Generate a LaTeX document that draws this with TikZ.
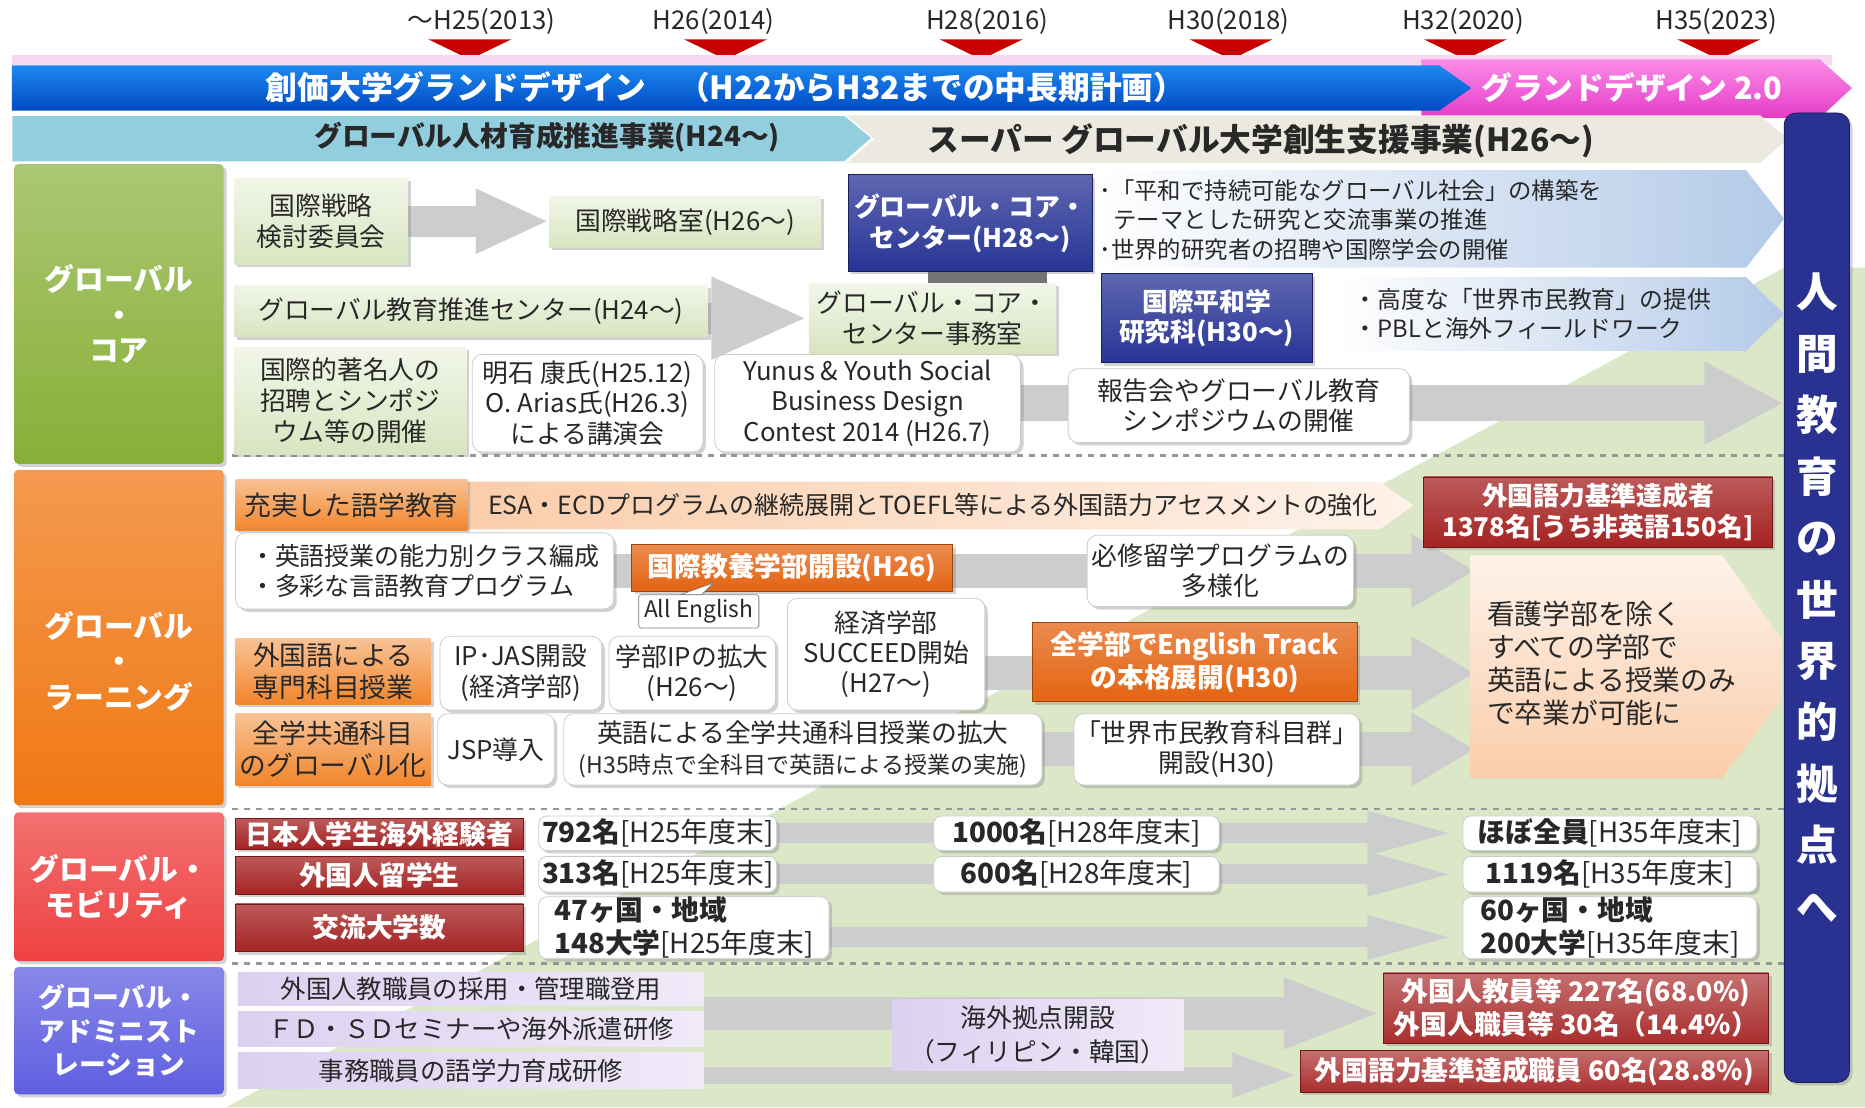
\documentclass[tikz,border=0pt]{standalone}
\usepackage{fontspec}
\setmainfont{Noto Sans CJK JP}
\usetikzlibrary{shadows,arrows.meta}

\newcommand{\jfs}[2]{\fontsize{#1}{#2}\selectfont}
% box from its two corners: \panel{style}{name}{x1}{y1}{x2}{y2}{text};
\newcommand{\panel}[6]{\node[#1, minimum width={(#5-#3)*0.6pt}, minimum height={(#6-#4)*0.6pt}] (#2) at ({(#3+#5)/2},{(#4+#6)/2})}

\definecolor{ink}{RGB}{40,40,40}
\definecolor{tickred}{RGB}{200,0,0}
\definecolor{blueribbon}{RGB}{30,135,240}
\definecolor{blueribbondark}{RGB}{0,75,195}
\definecolor{pinkribbon}{RGB}{230,60,200}
\definecolor{pinkribbonlight}{RGB}{250,140,230}
\definecolor{pinkhaze}{RGB}{248,215,240}
\definecolor{skyband}{RGB}{146,206,222}
\definecolor{sandband}{RGB}{236,234,224}
\definecolor{meadow}{RGB}{220,231,200}
\definecolor{coregreen}{RGB}{135,175,55}
\definecolor{learnorange}{RGB}{240,120,20}
\definecolor{mobred}{RGB}{238,65,65}
\definecolor{adminblue}{RGB}{95,95,225}
\definecolor{sage}{RGB}{216,229,192}
\definecolor{navy}{RGB}{40,52,150}
\definecolor{skyarrow}{RGB}{180,202,232}
\definecolor{peach}{RGB}{250,205,170}
\definecolor{ember}{RGB}{228,100,18}
\definecolor{brick}{RGB}{165,35,35}
\definecolor{lavender}{RGB}{220,208,240}
\definecolor{arrowgray}{RGB}{205,205,205}
\definecolor{sepgray}{RGB}{150,150,150}
\definecolor{goalnavy}{RGB}{42,50,145}

\pgfdeclarelayer{bottom}
\pgfdeclarelayer{back}
\pgfsetlayers{bottom,back,main}

\tikzset{
  every node/.style={inner sep=0pt, align=center, text=ink},
  softshadow/.style={drop shadow={opacity=.35, shadow xshift=1.5pt, shadow yshift=-1.5pt}},
  yearlabel/.style={font=\jfs{13}{15}},
  ribbontext/.style={text=white, font=\jfs{16}{18}\bfseries},
  bandtext/.style={font=\jfs{14}{16}\bfseries},
  cattext/.style={text=white, font=\jfs{15}{18}\bfseries},
  catbox/.style={rounded corners=2pt, cattext, softshadow},
  sagebox/.style={top color=sage!35, bottom color=sage, softshadow, font=\jfs{13}{15.5}},
  whitebox/.style={fill=white, rounded corners=5pt, draw=black!20, softshadow, font=\jfs{13}{15.3}},
  navybox/.style={top color=navy!75, bottom color=navy, draw=navy!60!black, text=white, softshadow, font=\jfs{13}{15.5}\bfseries},
  orangebox/.style={top color=learnorange!45, bottom color=learnorange!90, softshadow, font=\jfs{13.5}{16.5}},
  hotbox/.style={top color=ember!75, bottom color=ember, draw=ember!70!black, text=white, softshadow, font=\jfs{13.5}{16.5}\bfseries},
  brickbox/.style={top color=brick!75, bottom color=brick, draw=brick!70!black, text=white, softshadow, font=\jfs{13}{16}\bfseries},
  numbox/.style={whitebox, rounded corners=4pt, font=\jfs{14}{16.5}},
  lavbox/.style={left color=lavender, right color=lavender!45, font=\jfs{12.8}{15.5}},
  tagbox/.style={fill=white, draw=black!50, rounded corners=1pt, font=\jfs{11.5}{13}},
  plantext/.style={align=left, font=\jfs{11.8}{15}},
  blockarrow/.style n args={3}{draw=arrowgray, line width=#1, -{Triangle[width=#2, length=#3]}},
  sepline/.style={sepgray, dashed, line width=1.2pt}
}

\begin{document}
\begin{tikzpicture}[x=0.6pt, y=-0.6pt]
\useasboundingbox (0,0) rectangle (1568,931);

\begin{pgfonlayer}{bottom}
\fill[white] (0,0) rectangle (1568,931);
\fill[meadow] (190,931) -- (1500,225) -- (1568,225) -- (1568,931) -- cycle;
\draw[sepline] (195,383) -- (1500,383);
\draw[sepline] (195,680) -- (1500,680);
\draw[sepline] (195,810) -- (1500,810);
\end{pgfonlayer}

% timeline
\node[yearlabel] (y2013) at (405,18) {〜H25(2013)};
\node[yearlabel] (y2014) at (600,18) {H26(2014)};
\node[yearlabel] (y2016) at (830,18) {H28(2016)};
\node[yearlabel] (y2018) at (1033,18) {H30(2018)};
\node[yearlabel] (y2020) at (1230,18) {H32(2020)};
\node[yearlabel] (y2023) at (1443,18) {H35(2023)};
\fill[tickred] (360,33) -- (430,33) -- (395,50) -- cycle;
\fill[tickred] (575,33) -- (645,33) -- (610,50) -- cycle;
\fill[tickred] (790,33) -- (860,33) -- (825,50) -- cycle;
\fill[tickred] (1000,33) -- (1070,33) -- (1035,50) -- cycle;
\fill[tickred] (1197,33) -- (1267,33) -- (1232,50) -- cycle;
\fill[tickred] (1410,33) -- (1480,33) -- (1445,50) -- cycle;

% ribbons
\fill[pinkhaze] (10,46) rectangle (1540,55);
\shade[top color=pinkribbonlight, bottom color=pinkribbon] (1195,50) -- (1530,50) -- (1557,74) -- (1530,99) -- (1195,99) -- cycle;
\shade[top color=blueribbon, bottom color=blueribbondark] (10,55) -- (1210,55) -- (1237,74) -- (1210,93) -- (10,93) -- cycle;
\node[ribbontext] (plan) at (610,73) {創価大学グランドデザイン　（H22からH32までの中長期計画）};
\node[ribbontext, font=\jfs{15.5}{18}\bfseries] (plan2) at (1372,74) {グランドデザイン 2.0};
\fill[sandband] (712,97) -- (1480,97) -- (1503,117) -- (1480,137) -- (712,137) -- (735,117) -- cycle;
\fill[skyband, draw=white] (10,97) -- (710,97) -- (733,116) -- (710,136) -- (10,136) -- cycle;
\node[bandtext] (hr) at (460,115) {グローバル人材育成推進事業(H24〜)};
\node[bandtext, font=\jfs{16}{18}\bfseries] (sgu) at (1060,118) {スーパー グローバル大学創生支援事業(H26〜)};

\panel{rounded corners=6pt, fill=goalnavy, draw=goalnavy!60!black, text=white, softshadow,
  font=\jfs{21}{31}\bfseries}{goal}{1500}{95}{1555}{910}
  {人\\間\\教\\育\\の\\世\\界\\的\\拠\\点\\へ};

% categories
\panel{catbox, top color=coregreen!70, bottom color=coregreen}{core}{12}{138}{188}{390} {グローバル\\・\\コア};
\panel{catbox, top color=learnorange!75, bottom color=learnorange}{learn}{12}{395}{188}{677} {};
\node[cattext] (learnlabel) at (100,556) {グローバル\\・\\ラーニング};
\panel{catbox, top color=mobred!75, bottom color=mobred}{mobility}{12}{683}{188}{808} {グローバル・\\モビリティ};
\panel{catbox, top color=adminblue!75, bottom color=adminblue, font=\jfs{13.5}{17}\bfseries}{admin}{12}{813}{188}{920} {グローバル・\\アドミニスト\\レーション};

% core
\panel{sagebox}{strat}{197}{150}{343}{222} {国際戦略\\検討委員会};
\panel{sagebox}{stratoffice}{462}{165}{690}{208} {国際戦略室(H26〜)};
\shade[left color=white, right color=skyarrow] (918,143) -- (1468,143) -- (1500,184) -- (1468,225) -- (918,225) -- cycle;
\panel{navybox}{gcc}{713}{147}{918}{228} {グローバル・コア・\\センター(H28〜)};
\fill[black!55] (780,229) rectangle (880,238);
\node[plantext, anchor=west] (gccplan) at (924,185) {･「平和で持続可能なグローバル社会」の構築を\\\hspace*{0.6em}テーマとした研究と交流事業の推進\\･世界的研究者の招聘や国際学会の開催};
\panel{sagebox}{gec}{197}{240}{595}{283} {グローバル教育推進センター(H24〜)};
\panel{sagebox}{gccoffice}{680}{238}{888}{297} {グローバル・コア・\\センター事務室};
\shade[left color=white, right color=skyarrow] (1125,233) -- (1468,233) -- (1500,264) -- (1468,295) -- (1125,295) -- cycle;
\panel{navybox}{peace}{926}{230}{1103}{305} {国際平和学\\研究科(H30〜)};
\node[plantext, font=\jfs{12}{15}, anchor=west] (peaceplan) at (1138,264) {・高度な「世界市民教育」の提供\\・PBLと海外フィールドワーク};
\panel{sagebox}{invite}{197}{292}{392}{382} {国際的著名人の\\招聘とシンポジ\\ウム等の開催};
\panel{whitebox}{lecture}{397}{298}{591}{380} {明石 康氏(H25.12)\\O. Arias氏(H26.3)\\による講演会};
\panel{whitebox}{yunus}{601}{298}{858}{380} {Yunus \& Youth Social\\Business Design\\Contest 2014 (H26.7)};
\panel{whitebox}{report}{898}{310}{1185}{372} {報告会やグローバル教育\\シンポジウムの開催};

% learning
\shade[left color=peach, right color=peach!25] (393,405) -- (1160,405) -- (1188,425) -- (1160,445) -- (393,445) -- cycle;
\panel{orangebox}{langedu}{198}{403}{393}{446} {充実した語学教育};
\node[font=\jfs{12.6}{14}, anchor=west] (esa) at (410,425) {ESA・ECDプログラムの継続展開とTOEFL等による外国語力アセスメントの強化};
\panel{brickbox}{target}{1197}{401}{1490}{460} {外国語力基準達成者\\1378名[うち非英語150名]};
\shade[top color=peach!25, bottom color=peach] (1236,467) -- (1448,467) -- (1498,538) -- (1498,588) -- (1448,654) -- (1236,654) -- cycle;
\coordinate (gradin) at (1240,0);
\node[align=left, anchor=west, font=\jfs{14}{16.6}] (grad) at (1250,558) {看護学部を除く\\すべての学部で\\英語による授業のみ\\で卒業が可能に};
\panel{whitebox, align=left, font=\jfs{12.6}{15.5}}{multi}{198}{448}{516}{512} {・英語授業の能力別クラス編成\\・多彩な言語教育プログラム};
\panel{hotbox}{liberal}{531}{458}{801}{497} {国際教養学部開設(H26)};
\fill[white, draw=black!50] (572,500) -- (600,490) -- (590,500) -- cycle;
\panel{tagbox}{allenglish}{537}{500}{638}{528} {All English};
\panel{whitebox}{abroad}{914}{450}{1138}{510} {必修留学プログラムの\\多様化};
\panel{orangebox}{specialist}{198}{537}{362}{592} {外国語による\\専門科目授業};
\panel{whitebox}{ipjas}{370}{535}{506}{597} {IP･JAS開設\\(経済学部)};
\panel{whitebox}{ipext}{512}{535}{652}{597} {学部IPの拡大\\(H26〜)};
\panel{whitebox}{succeed}{662}{503}{828}{597} {経済学部\\SUCCEED開始\\(H27〜)};
\coordinate (row2) at (828,566);
\panel{hotbox}{track}{868}{523}{1141}{590} {全学部でEnglish Track\\の本格展開(H30)};
\panel{orangebox}{common}{198}{600}{362}{660} {全学共通科目\\のグローバル化};
\panel{whitebox}{jsp}{368}{600}{466}{660} {JSP導入};
\panel{whitebox}{ge}{474}{600}{876}{660} {英語による全学共通科目授業の拡大\\{\jfs{11.6}{15}(H35時点で全科目で英語による授業の実施)}};
\panel{whitebox}{citizen}{903}{600}{1143}{660} {「世界市民教育科目群」\\開設(H30)};

% mobility
\panel{brickbox, font=\jfs{13.5}{16}\bfseries}{jpl}{198}{688}{440}{714} {日本人学生海外経験者};
\panel{brickbox, font=\jfs{13.5}{16}\bfseries}{intl}{198}{720}{440}{752} {外国人留学生};
\panel{brickbox, font=\jfs{13.5}{16}\bfseries}{univ}{198}{760}{440}{800} {交流大学数};
\panel{numbox}{jp25}{453}{686}{653}{715} {\textbf{792名}[H25年度末]};
\panel{numbox}{in25}{453}{720}{653}{750} {\textbf{313名}[H25年度末]};
\panel{numbox, align=left}{un25}{453}{754}{697}{806} {\textbf{47ヶ国・地域}\\\textbf{148大学}[H25年度末]};
\coordinate (row3) at (697,788);
\panel{numbox}{jp28}{785}{686}{1025}{715} {\textbf{1000名}[H28年度末]};
\panel{numbox}{in28}{785}{720}{1025}{750} {\textbf{600名}[H28年度末]};
\panel{numbox}{jp35}{1230}{686}{1477}{715} {\textbf{ほぼ全員}[H35年度末]};
\panel{numbox}{in35}{1230}{720}{1477}{750} {\textbf{1119名}[H35年度末]};
\panel{numbox, align=left}{un35}{1230}{754}{1477}{806} {\textbf{60ヶ国・地域}\\\textbf{200大学}[H35年度末]};

% administration
\panel{lavbox}{adm1}{200}{818}{592}{845} {外国人教職員の採用・管理職登用};
\panel{lavbox}{adm2}{200}{850}{592}{880} {ＦＤ・ＳＤセミナーや海外派遣研修};
\panel{lavbox}{adm3}{200}{885}{592}{915} {事務職員の語学力育成研修};
\coordinate (admsrc) at (592,852);
\coordinate (admsrc2) at (592,904);
\panel{lavbox, font=\jfs{13}{17}}{overseas}{750}{840}{995}{900} {海外拠点開設\\（フィリピン・韓国）};
\panel{brickbox, top color=brick!65, bottom color=brick!95, font=\jfs{13.5}{16.5}\bfseries}{staff}{1163}{818}{1487}{877} {外国人教員等 227名(68.0\%)\\外国人職員等 30名（14.4\%）};
\panel{brickbox, top color=brick!65, bottom color=brick!95, font=\jfs{13.5}{16.5}\bfseries}{langstaff}{1093}{883}{1487}{918} {外国語力基準達成職員 60名(28.8\%)};

% grey arrows
\begin{pgfonlayer}{back}
\draw[blockarrow={15.6pt}{30pt}{37pt}] (strat.east) -- (strat.east -| stratoffice.west);
\draw[blockarrow={15.6pt}{38pt}{49pt}] (gec.east |- gccoffice.west) -- (gccoffice.west);
\draw[blockarrow={18pt}{39pt}{40pt}] (yunus.east) -- (yunus.east -| goal.west);
\draw[blockarrow={17pt}{35pt}{32pt}] (multi.east) -- (multi.east -| gradin);
\draw[blockarrow={17pt}{35pt}{32pt}] (row2) -- (row2 -| gradin);
\draw[blockarrow={17pt}{35pt}{32pt}] (ge.east) -- (ge.east -| gradin);
\draw[blockarrow={10pt}{19pt}{48pt}] (jp25.east) -- (jp35.west);
\draw[blockarrow={10pt}{19pt}{48pt}] (in25.east) -- (in35.west);
\draw[blockarrow={10pt}{19pt}{48pt}] (row3) -- (row3 -| un35.west);
\draw[blockarrow={17pt}{32pt}{50pt}] (admsrc) -- (admsrc -| staff.west);
\draw[blockarrow={8.4pt}{20pt}{34pt}] (admsrc2) -- (admsrc2 -| langstaff.west);
\end{pgfonlayer}
\end{tikzpicture}
\end{document}
